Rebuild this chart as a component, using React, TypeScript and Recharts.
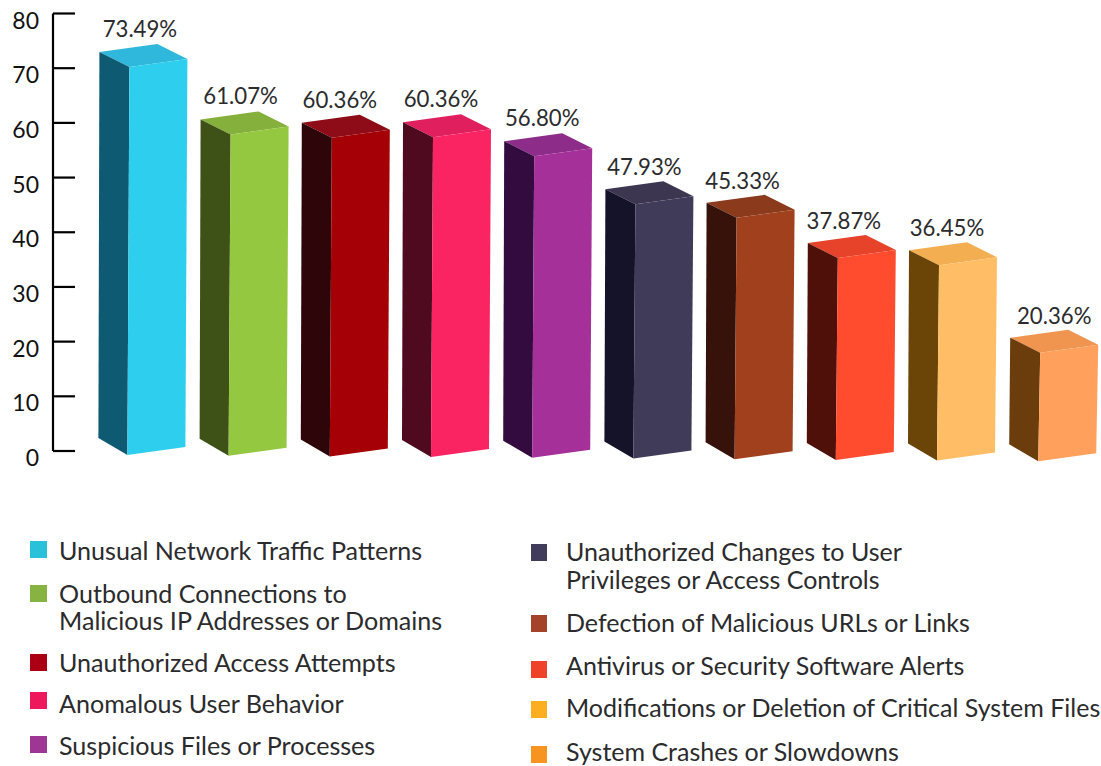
import React from 'react';
import { BarChart, Bar, XAxis, YAxis, LabelList } from 'recharts';

const categories = [
  'Unusual Network Traffic Patterns',
  'Outbound Connections to Malicious IP Addresses or Domains',
  'Unauthorized Access Attempts',
  'Anomalous User Behavior',
  'Suspicious Files or Processes',
  'Unauthorized Changes to User Privileges or Access Controls',
  'Defection of Malicious URLs or Links',
  'Antivirus or Security Software Alerts',
  'Modifications or Deletion of Critical System Files',
  'System Crashes or Slowdowns',
];
const values = [73.49, 61.07, 60.36, 60.36, 56.8, 47.93, 45.33, 37.87, 36.45, 20.36];
const yTicks = [0, 10, 20, 30, 40, 50, 60, 70, 80];

const frontColors = ['#2ECFEE', '#94C840', '#A50005', '#FA2463', '#A5309A', '#413B5A', '#A0401D', '#FF4B2E', '#FFBD66', '#FFA05C'];
const sideColors = ['#0E5A72', '#3E5218', '#2E0508', '#500A20', '#330B3E', '#15132A', '#36120A', '#4E1008', '#6B4408', '#6B3C0C'];
const topColors = ['#2FB8DB', '#86B03C', '#8E0C18', '#E0205E', '#8E2C8A', '#3C3650', '#8B3A1C', '#E6432A', '#F2AE50', '#F09550'];
const legendColors = ['#29C1DA', '#86B341', '#AB0013', '#EE185C', '#9E3693', '#423C5C', '#A4432A', '#EE4329', '#FBAE1F', '#F7941F'];

// how far each value label sits left of its bar centre in the reference
const labelShift = [3.5, 4, 6, 6, 6, 5, 8, 8, 6, 0];

const FONT = 'Lato, sans-serif';
const TEXT = '#2b2b2d';

// legend rows: item index, swatch top, text top, text lines
const leftLegend = [
  { i: 0, y: 541, textY: 537, lines: ['Unusual Network Traffic Patterns'] },
  { i: 1, y: 585, textY: 580, lines: ['Outbound Connections to', 'Malicious IP Addresses or Domains'] },
  { i: 2, y: 654, textY: 649, lines: ['Unauthorized Access Attempts'] },
  { i: 3, y: 692, textY: 690, lines: ['Anomalous User Behavior'] },
  { i: 4, y: 736, textY: 732, lines: ['Suspicious Files or Processes'] },
];
const rightLegend = [
  { i: 5, y: 544, textY: 537, lines: ['Unauthorized Changes to User', 'Privileges or Access Controls'] },
  { i: 6, y: 615, textY: 608, lines: ['Defection of Malicious URLs or Links'] },
  { i: 7, y: 661, textY: 651, lines: ['Antivirus or Security Software Alerts'] },
  { i: 8, y: 701, textY: 693, lines: ['Modifications or Deletion of Critical System Files'] },
  { i: 9, y: 746, textY: 737, lines: ['System Crashes or Slowdowns'] },
];

const data = categories.map((name, i) => ({ name, value: values[i] }));

// isometric box drawn from the rectangle Recharts hands over
const Box3D = (props: any) => {
  const { x, y, height, index } = props;
  const top = y + 3 - 0.55 * index;
  const bottom = y + height + 4 + 0.7 * index;
  const pts = (list: number[][]) => list.map((p) => p.join(',')).join(' ');
  return (
    <g>
      <polygon fill={topColors[index]} points={pts([[x, top], [x + 58, top - 8], [x + 88, top + 7], [x + 30, top + 15]])} />
      <polygon fill={sideColors[index]} points={pts([[x, top], [x + 30, top + 15], [x + 28, bottom], [x - 1, bottom - 17]])} />
      <polygon fill={frontColors[index]} points={pts([[x + 30, top + 15], [x + 88, top + 7], [x + 86, bottom - 8], [x + 28, bottom]])} />
    </g>
  );
};

const BarValue = (props: any) => {
  const { x, y, width, value, index } = props;
  return (
    <text
      x={x + width / 2 - labelShift[index]}
      y={y - 12.5 - 0.35 * index}
      textAnchor="middle"
      fontFamily={FONT}
      fontSize={22.2}
      fill={TEXT}
    >
      {`${Number(value).toFixed(2)}%`}
    </text>
  );
};

const AxisTick = (props: any) => {
  const { x, y, payload } = props;
  return (
    <g>
      <line x1={x} x2={x + 22} y1={y} y2={y} stroke="#000" strokeWidth={2.2} />
      <text x={x - 14} y={y + 15} textAnchor="end" fontFamily={FONT} fontSize={23} fill="#111">
        {payload.value}
      </text>
    </g>
  );
};

const LegendColumn = ({ rows, swatchX, swatchW, textX, fontSize, lineHeight }: any) => (
  <>
    {rows.map((row: any) => (
      <React.Fragment key={row.i}>
        <div style={{ position: 'absolute', left: swatchX, top: row.y, width: swatchW, height: 17, background: legendColors[row.i] }} />
        <div style={{ position: 'absolute', left: textX, top: row.textY, fontFamily: FONT, fontSize, lineHeight: `${lineHeight}px`, color: TEXT, whiteSpace: 'nowrap' }}>
          {row.lines.map((line: string) => (
            <div key={line}>{line}</div>
          ))}
        </div>
      </React.Fragment>
    ))}
  </>
);

const App: React.FC = () => {
  return (
    <div style={{ position: 'absolute', left: 0, top: 0, width: 1101, height: 766, overflow: 'hidden', background: '#fff' }}>
      <BarChart
        width={1105}
        height={766}
        data={data}
        barSize={88}
        margin={{ top: 13.5, right: 0.6, bottom: 315, left: 13 }}
      >
        <XAxis dataKey="name" hide padding={{ left: 39.4, right: 0 }} />
        <YAxis
          width={40}
          domain={[0, 80]}
          ticks={yTicks}
          interval={0}
          tickLine={false}
          tickSize={0}
          tickMargin={0}
          tick={<AxisTick />}
          axisLine={{ stroke: '#000', strokeWidth: 2.2 }}
        />
        <Bar dataKey="value" shape={<Box3D />} isAnimationActive={false}>
          <LabelList dataKey="value" content={<BarValue />} />
        </Bar>
      </BarChart>
      <LegendColumn rows={leftLegend} swatchX={30} swatchW={17} textX={59} fontSize={25.1} lineHeight={27} />
      <LegendColumn rows={rightLegend} swatchX={531} swatchW={16} textX={566} fontSize={25} lineHeight={28} />
    </div>
  );
};

export default App;
